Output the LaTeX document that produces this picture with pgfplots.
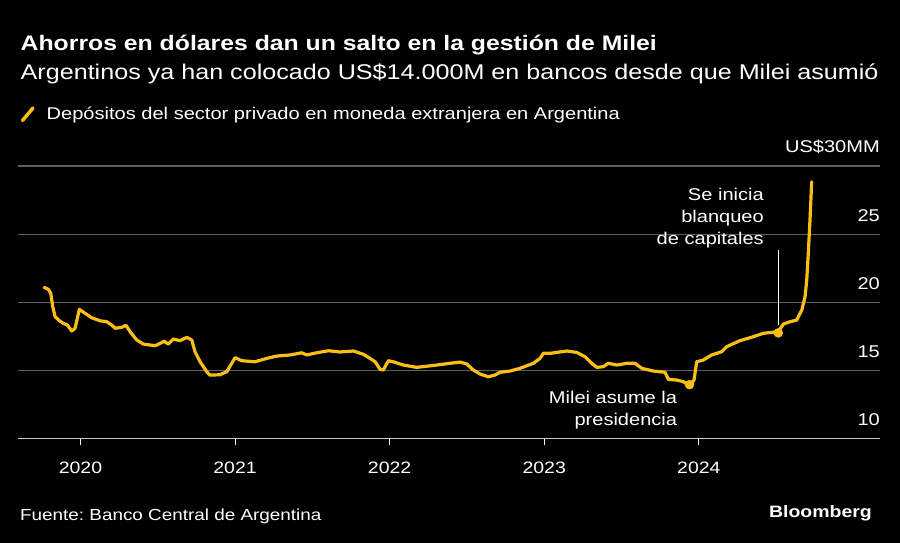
\documentclass[border=0pt]{standalone}
\usepackage{fontspec}
\setmainfont{Liberation Sans}[FakeStretch=1.18]
\usepackage{pgfplots}
\pgfplotsset{compat=1.18}
\definecolor{byel}{RGB}{250,190,20}
\definecolor{gridc}{RGB}{95,95,95}
\definecolor{axc}{RGB}{200,200,200}
\frenchspacing
\begin{document}
\frenchspacing
\begin{tikzpicture}[x=1bp,y=1bp]
\fill[black] (0,0) rectangle (900,543);
\begin{axis}[
  at={(18bp,104.5bp)}, anchor=south west,
  width=862bp, height=272.5bp, scale only axis,
  xmin=2019.596, xmax=2025.172, ymin=10, ymax=30,
  axis x line*=bottom, axis y line*=right,
  x axis line style={axc, line width=1.2bp},
  y axis line style={draw=none},
  xtick={2020,2021,2022,2023,2024},
  xticklabels={2020,2021,2022,2023,2024},
  xtick align=outside,
  major x tick style={white, line width=1bp},
  major tick length=7bp,
  xticklabel style={anchor=base, yshift=-28.5bp, inner sep=0pt, text=white, font=\fontsize{16.5bp}{16.5bp}\selectfont},
  ytick={10,15,20,25,30},
  yticklabels={10,15,20,25,US\$30MM},
  yticklabel pos=right,
  major y tick style={draw=none},
  yticklabel style={anchor=base east, inner sep=0pt, xshift=0bp, yshift=13bp, text=white, font=\fontsize{17bp}{17bp}\selectfont},
  ymajorgrids, grid style={gridc, line width=1.2bp},
  /pgf/number format/assume math mode=true,
  clip=false,
]
\addplot[byel, line width=3.2bp, line join=round, line cap=round] coordinates {
(2019.765,21.09) (2019.792,20.95) (2019.808,20.65) (2019.821,19.67) (2019.836,18.94)
(2019.864,18.64) (2019.889,18.45) (2019.915,18.33) (2019.944,17.89) (2019.965,18.09)
(2019.993,19.48) (2020.030,19.19) (2020.073,18.86) (2020.127,18.64) (2020.170,18.57)
(2020.202,18.33) (2020.224,18.09) (2020.267,18.16) (2020.295,18.31) (2020.321,17.84)
(2020.364,17.23) (2020.407,16.93) (2020.483,16.81) (2020.515,16.98) (2020.541,17.13)
(2020.569,16.93) (2020.601,17.30) (2020.644,17.18) (2020.688,17.42) (2020.720,17.23)
(2020.741,16.37) (2020.774,15.63) (2020.817,14.90) (2020.838,14.65) (2020.903,14.68)
(2020.946,14.90) (2020.972,15.39) (2021.000,15.93) (2021.043,15.71) (2021.129,15.63)
(2021.205,15.88) (2021.270,16.05) (2021.356,16.13) (2021.431,16.29) (2021.464,16.13)
(2021.528,16.29) (2021.604,16.44) (2021.679,16.35) (2021.765,16.42) (2021.830,16.18)
(2021.873,15.88) (2021.906,15.63) (2021.938,15.08) (2021.959,15.03) (2021.992,15.71)
(2022.035,15.59) (2022.089,15.39) (2022.175,15.22) (2022.305,15.39) (2022.391,15.52)
(2022.455,15.61) (2022.499,15.47) (2022.541,15.03) (2022.585,14.73) (2022.638,14.53)
(2022.682,14.66) (2022.714,14.86) (2022.779,14.95) (2022.843,15.15) (2022.930,15.52)
(2022.973,15.88) (2022.994,16.25) (2023.038,16.25) (2023.081,16.32) (2023.146,16.42)
(2023.210,16.32) (2023.264,16.00) (2023.307,15.52) (2023.340,15.22) (2023.382,15.27)
(2023.415,15.52) (2023.469,15.39) (2023.534,15.52) (2023.587,15.52) (2023.631,15.15)
(2023.706,14.95) (2023.781,14.86) (2023.803,14.34) (2023.857,14.29) (2023.900,14.17)
(2023.939,13.87) (2023.969,14.29) (2023.986,15.63) (2024.029,15.76) (2024.083,16.13)
(2024.148,16.37) (2024.180,16.74) (2024.266,17.18) (2024.353,17.47) (2024.417,17.72)
(2024.472,17.79) (2024.514,17.84) (2024.547,18.40) (2024.590,18.57) (2024.633,18.69)
(2024.666,19.43) (2024.687,20.40) (2024.698,21.63) (2024.708,23.59) (2024.719,26.03)
(2024.730,28.84)
};
\addplot[only marks, mark=*, mark size=4.5bp, byel, mark options={draw=byel, fill=byel}] coordinates {(2023.94,13.95) (2024.514,17.75)};
\draw[white, line width=1bp] (axis cs:2024.514,18.35) -- (axis cs:2024.514,23.83);
\end{axis}
% titles
\node[anchor=base west, inner sep=0pt, text=white, font=\fontsize{21bp}{21bp}\selectfont\bfseries] at (20.5,492) {Ahorros en dólares dan un salto en la gestión de Milei};
\node[anchor=base west, inner sep=0pt, text=white, font=\fontsize{21.3bp}{21.3bp}\selectfont] at (20.5,463.7) {Argentinos ya han colocado US\$14.000M en bancos desde que Milei asumió};
% legend
\draw[byel, line width=3.5bp, line cap=round] (22.5,422.5) -- (33,435);
\node[anchor=base west, inner sep=0pt, text=white, font=\fontsize{17bp}{17bp}\selectfont] at (46.5,423) {Depósitos del sector privado en moneda extranjera en Argentina};
% annotations
\node[anchor=base east, inner sep=0pt, text=white, font=\fontsize{17bp}{17bp}\selectfont] at (764,342.3) {Se inicia};
\node[anchor=base east, inner sep=0pt, text=white, font=\fontsize{17bp}{17bp}\selectfont] at (764,320.5) {blanqueo};
\node[anchor=base east, inner sep=0pt, text=white, font=\fontsize{17bp}{17bp}\selectfont] at (764,298.7) {de capitales};
\node[anchor=base east, inner sep=0pt, text=white, font=\fontsize{17bp}{17bp}\selectfont] at (677.3,139.7) {Milei asume la};
\node[anchor=base east, inner sep=0pt, text=white, font=\fontsize{17bp}{17bp}\selectfont] at (677.3,117.7) {presidencia};
% footer
\node[anchor=base west, inner sep=0pt, text=white, font=\fontsize{16bp}{16bp}\selectfont] at (20,22) {Fuente: Banco Central de Argentina};
\node[anchor=base east, inner sep=0pt, text=white, font=\fontsize{16.5bp}{16.5bp}\selectfont\bfseries] at (872,25.3) {Bloomberg};
\end{tikzpicture}
\end{document}
